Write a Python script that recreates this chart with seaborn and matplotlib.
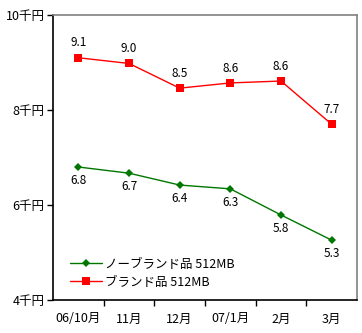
import matplotlib
matplotlib.use("Agg")
import matplotlib.pyplot as plt
import seaborn as sns
import pandas as pd

categories = ["06/10月", "11月", "12月", "07/1月", "2月", "3月"]
brand = [9.1, 8.98, 8.46, 8.57, 8.61, 7.70]
nobrand = [6.80, 6.67, 6.42, 6.34, 5.79, 5.26]
ytick_vals = [4, 6, 8, 10]
ytick_labels = ["4千円", "6千円", "8千円", "10千円"]
name_nb = "ノーブランド品 512MB"
name_b = "ブランド品 512MB"

sns.set_theme(style="white")
plt.rcParams['font.family'] = ['Noto Sans CJK JP', 'DejaVu Sans']
plt.rcParams['text.color'] = 'black'
plt.rcParams['xtick.color'] = 'black'
plt.rcParams['ytick.color'] = 'black'

df = pd.DataFrame({"x": list(range(len(categories))) * 2,
                   "v": nobrand + brand,
                   "s": [name_nb] * len(categories) + [name_b] * len(categories)})

fig = plt.figure(figsize=(3.62, 3.33), dpi=100)
ax = fig.add_axes([53/362, 33/333, 304/362, 285/333])

sns.lineplot(data=df, x="x", y="v", hue="s", style="s",
             palette={name_nb: "#007700", name_b: "#ff0000"},
             markers={name_nb: "D", name_b: "s"}, dashes=False,
             markersize=5, linewidth=1, markeredgewidth=0, ax=ax)
for line in ax.lines:
    if line.get_marker() == "D":
        line.set_markersize(4.5)
    else:
        line.set_markersize(6)

for i, v in enumerate(brand):
    ax.annotate(f"{v:.1f}", (i, v), xytext=(0, 6), textcoords="offset points",
                ha="center", va="bottom", fontsize=8.5, color="black")
for i, v in enumerate(nobrand):
    ax.annotate(f"{v:.1f}", (i, v), xytext=(0, -5), textcoords="offset points",
                ha="center", va="top", fontsize=8.5, color="black")

ax.set_xlim(-0.5, len(categories) - 0.5)
ax.set_ylim(4, 10)
ax.set_yticks(ytick_vals)
ax.set_yticklabels(ytick_labels, fontsize=9)
ax.set_xticks(range(len(categories)))
ax.set_xticklabels(categories, fontsize=9)
ax.set_xticks([i + 0.5 for i in range(len(categories) - 1)], minor=True)
ax.tick_params(axis="x", which="major", length=0, pad=9)
ax.tick_params(axis="x", which="minor", length=4, width=1, color="black", direction="out", bottom=True)
ax.tick_params(axis="y", length=4, width=1, color="black", direction="out", left=True, pad=2)
ax.set_xlabel("")
ax.set_ylabel("")

for side in ["left", "bottom"]:
    ax.spines[side].set_color("black")
    ax.spines[side].set_linewidth(1.2)
for side in ["top", "right"]:
    ax.spines[side].set_color("#808080")
    ax.spines[side].set_linewidth(1.2)

leg = ax.legend(loc="lower left", bbox_to_anchor=(0.02, 0.0), frameon=False,
                fontsize=9, handlelength=2.5, handletextpad=0.3, labelspacing=0.4)
for t in leg.get_texts():
    t.set_color("black")

fig.savefig("out.png", dpi=100)
